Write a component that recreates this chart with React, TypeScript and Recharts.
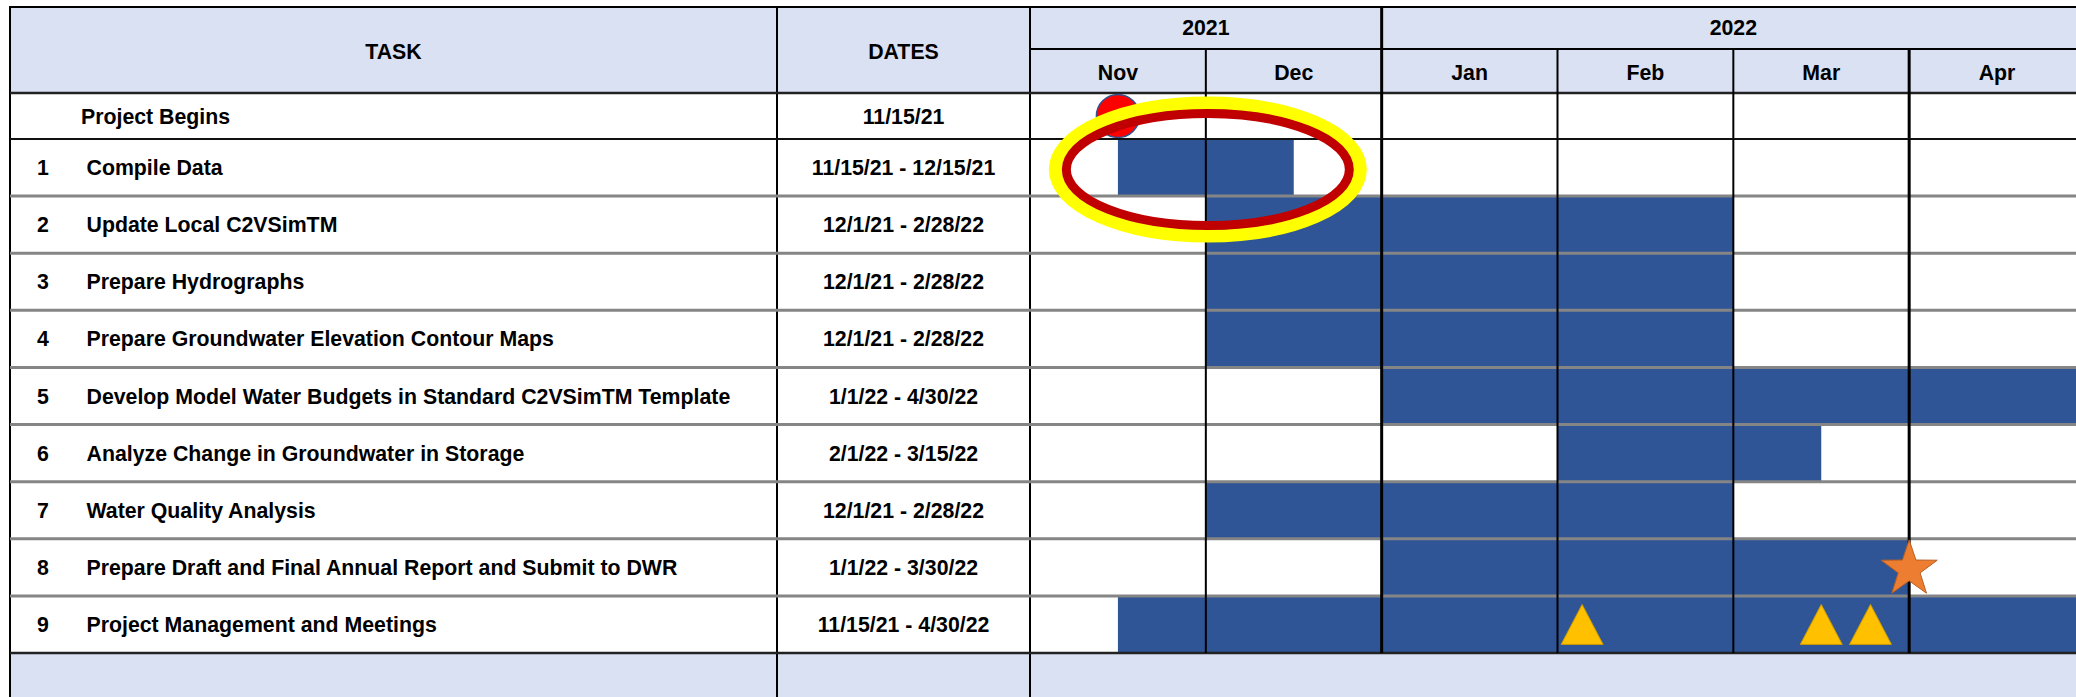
import React from 'react';
import { ComposedChart, Bar, Scatter, XAxis, YAxis, ReferenceLine } from 'recharts';

// timeline in month units: 0 = 1 Nov 2021, 6 = 30 Apr 2022
const months = ['Nov', 'Dec', 'Jan', 'Feb', 'Mar', 'Apr'];
const years = ['2021', '2022'];
const yearStart = [0, 2];
const yearEnd = [2, 6];

const kickoffName = 'Project Begins';
const kickoffDate = '11/15/21';
const kickoffAt = 0.5;

const taskNums = ['1', '2', '3', '4', '5', '6', '7', '8', '9'];
const taskNames = [
  'Compile Data',
  'Update Local C2VSimTM',
  'Prepare Hydrographs',
  'Prepare Groundwater Elevation Contour Maps',
  'Develop Model Water Budgets in Standard C2VSimTM Template',
  'Analyze Change in Groundwater in Storage',
  'Water Quality Analysis',
  'Prepare Draft and Final Annual Report and Submit to DWR',
  'Project Management and Meetings',
];
const taskDates = [
  '11/15/21 - 12/15/21',
  '12/1/21 - 2/28/22',
  '12/1/21 - 2/28/22',
  '12/1/21 - 2/28/22',
  '1/1/22 - 4/30/22',
  '2/1/22 - 3/15/22',
  '12/1/21 - 2/28/22',
  '1/1/22 - 3/30/22',
  '11/15/21 - 4/30/22',
];
const taskStart = [0.5, 1, 1, 1, 2, 3, 1, 2, 0.5];
const taskEnd = [1.5, 4, 4, 4, 6, 4.5, 4, 5, 6];

// markers drawn on top of the bars
const highlightTask = 'Compile Data';
const highlightAt = 1;
const reportTask = 'Prepare Draft and Final Annual Report and Submit to DWR';
const reportDue = 5;
const meetingTask = 'Project Management and Meetings';
const meetingDates = [3.14, 4.5, 4.78];

// page layout
const W = 2085;
const H = 697;
const LEFT = 10;
const TOP = 7;
const TASK_R = 777;
const PLOT_L = 1030;
const YEAR_B = 49;
const HEAD_B = 93;
const ROW0_B = 139;
const BODY_B = 653;

const HEAD_BG = '#D9E1F2';
const BAR = '#2F5597';
const FONT = '"Liberation Sans", Arial, sans-serif';
const txt = { fontFamily: FONT, fontSize: 21.3, fontWeight: 700, fill: '#000' };

const kickoffRows = [{ task: kickoffName, kickoff: kickoffAt }];

const rows = taskNames.map((task, i) => ({
  task,
  span: [taskStart[i], taskEnd[i]],
  highlight: task === highlightTask ? highlightAt : null,
  report: task === reportTask ? reportDue : null,
  meetings: task === meetingTask ? meetingDates : [],
}));

const okPoint = (p: any) => p && p.cx != null && p.cy != null && !isNaN(p.cx) && !isNaN(p.cy);

function KickoffTick({ y }: any) {
  return (
    <g>
      <text x={81} y={y + 7.5} {...txt}>{kickoffName}</text>
      <text x={(TASK_R + PLOT_L) / 2} y={y + 7.5} textAnchor="middle" {...txt}>{kickoffDate}</text>
    </g>
  );
}

function TaskTick({ y, payload }: any) {
  const i = taskNames.indexOf(payload.value);
  return (
    <g>
      <text x={43} y={y + 7.5} textAnchor="middle" {...txt}>{taskNums[i]}</text>
      <text x={86.5} y={y + 7.5} {...txt}>{payload.value}</text>
      <text x={(TASK_R + PLOT_L) / 2} y={y + 7.5} textAnchor="middle" {...txt}>{taskDates[i]}</text>
    </g>
  );
}

// horizontal rule running across the whole table, not only the timeline
const rowRule = (color: string, width: number) => (p: any) => (
  <line x1={LEFT} x2={Math.max(p.x1, p.x2)} y1={p.y1} y2={p.y2} stroke={color} strokeWidth={width} />
);

// month divider that continues up into the header rows
const headRule = (top: number, width: number) => (p: any) => (
  <line x1={p.x1} x2={p.x2} y1={top} y2={Math.max(p.y1, p.y2)} stroke="#000" strokeWidth={width} />
);

const Nothing = () => <g />;

const Circle = (p: any) =>
  okPoint(p) ? <circle cx={p.cx} cy={p.cy} r={21.5} fill="#FF0000" stroke="#2F528F" strokeWidth={1.5} /> : <g />;

const Highlight = (p: any) =>
  okPoint(p) ? (
    <g>
      <ellipse cx={p.cx + 2} cy={p.cy + 2} rx={152.5} ry={66.5} fill="none" stroke="#FFFF00" strokeWidth={13} />
      <ellipse cx={p.cx + 2} cy={p.cy + 2} rx={141.5} ry={56} fill="none" stroke="#C00000" strokeWidth={9} />
    </g>
  ) : (
    <g />
  );

const Star = (p: any) => {
  if (!okPoint(p)) return <g />;
  const pts: string[] = [];
  for (let k = 0; k < 10; k++) {
    const r = k % 2 === 0 ? 29.5 : 11.5;
    const a = -Math.PI / 2 + (k * Math.PI) / 5;
    pts.push(`${p.cx + r * Math.cos(a)},${p.cy + 2 + r * Math.sin(a)}`);
  }
  return <polygon points={pts.join(' ')} fill="#ED7D31" stroke="#B85F22" strokeWidth={1} />;
};

const Triangle = (p: any) =>
  okPoint(p) ? (
    <polygon
      points={`${p.cx},${p.cy - 20} ${p.cx + 21},${p.cy + 20} ${p.cx - 21},${p.cy + 20}`}
      fill="#FFC000"
      stroke="#C99A00"
      strokeWidth={1}
    />
  ) : (
    <g />
  );

const vLine = (k: number) => (k === 2 || k === 5 ? 3 : 2);

export default function App() {
  const dividers = [1, 2, 3, 4, 5];
  return (
    <div
      style={{
        position: 'fixed',
        left: 0,
        top: 0,
        width: 2076,
        height: H,
        overflow: 'hidden',
        background: '#fff',
        fontFamily: FONT,
      }}
    >
      {/* table frame */}
      <div style={{ position: 'absolute', left: LEFT, top: TOP, width: W - LEFT, height: HEAD_B - TOP, background: HEAD_BG }} />
      <div style={{ position: 'absolute', left: LEFT, top: BODY_B, width: W - LEFT, height: H - BODY_B, background: HEAD_BG }} />
      <div style={{ position: 'absolute', left: LEFT - 1, top: TOP - 1, width: W - LEFT, height: 2, background: '#000' }} />
      {[LEFT, TASK_R, PLOT_L].map((x) => (
        <div key={x} style={{ position: 'absolute', left: x - 1, top: TOP - 1, width: 2, height: H, background: '#000' }} />
      ))}
      <svg style={{ position: 'absolute', left: 0, top: 0 }} width={PLOT_L} height={HEAD_B}>
        <text x={(LEFT + TASK_R) / 2} y={59} textAnchor="middle" {...txt}>TASK</text>
        <text x={(TASK_R + PLOT_L) / 2} y={59} textAnchor="middle" {...txt}>DATES</text>
      </svg>

      {/* header rows + project start milestone */}
      <div style={{ position: 'absolute', left: 0, top: 0 }}>
        <ComposedChart
          layout="vertical"
          width={W}
          height={ROW0_B}
          data={kickoffRows}
          margin={{ top: TOP, right: 0, bottom: 0, left: LEFT }}
        >
          <XAxis
            xAxisId="m"
            orientation="top"
            type="number"
            domain={[0, 6]}
            ticks={months.map((_, i) => i + 0.5)}
            tickFormatter={(v: number) => months[Math.floor(v)]}
            height={HEAD_B - YEAR_B}
            tickSize={0}
            tickMargin={13}
            tickLine={false}
            axisLine={false}
            tick={txt}
            interval={0}
          />
          <XAxis
            xAxisId="y"
            orientation="top"
            type="number"
            domain={[0, 6]}
            ticks={years.map((_, i) => (yearStart[i] + yearEnd[i]) / 2)}
            tickFormatter={(v: number) => years[yearStart.findIndex((s, i) => v > s && v < yearEnd[i])]}
            height={YEAR_B - TOP}
            tickSize={0}
            tickMargin={14}
            tickLine={false}
            axisLine={{ stroke: '#000', strokeWidth: 2 }}
            tick={txt}
            interval={0}
          />
          <YAxis
            type="category"
            scale="band"
            dataKey="task"
            width={PLOT_L - LEFT}
            axisLine={false}
            tickLine={false}
            tick={<KickoffTick />}
            interval={0}
          />
          <ReferenceLine xAxisId="m" y={kickoffName} position="start" shape={rowRule('#222', 2.5)} />
          {dividers.map((k) => (
            <ReferenceLine
              key={k}
              xAxisId="m"
              x={k}
              shape={headRule(yearStart.includes(k) ? TOP : YEAR_B, vLine(k))}
            />
          ))}
          <Scatter xAxisId="y" dataKey="kickoff" shape={Nothing} isAnimationActive={false} />
          <Scatter xAxisId="m" dataKey="kickoff" shape={Circle} isAnimationActive={false} />
        </ComposedChart>
      </div>

      {/* task rows */}
      <div style={{ position: 'absolute', left: 0, top: 0 }}>
        <ComposedChart
          layout="vertical"
          width={W}
          height={H}
          data={rows}
          barCategoryGap={0}
          barGap={0}
          margin={{ top: ROW0_B, right: 0, bottom: H - BODY_B, left: LEFT }}
        >
          <XAxis type="number" domain={[0, 6]} hide />
          <YAxis
            type="category"
            dataKey="task"
            width={PLOT_L - LEFT}
            axisLine={false}
            tickLine={false}
            tick={<TaskTick />}
            interval={0}
          />
          <Bar dataKey="span" fill={BAR} isAnimationActive={false} />
          {taskNames.slice(0, -1).map((t) => (
            <ReferenceLine key={t} y={t} position="end" shape={rowRule('#858585', 3)} />
          ))}
          <ReferenceLine y={taskNames[0]} position="start" shape={rowRule('#111', 2)} />
          <ReferenceLine y={taskNames[taskNames.length - 1]} position="end" shape={rowRule('#222', 2.5)} />
          {dividers.map((k) => (
            <ReferenceLine key={k} x={k} stroke="#000" strokeWidth={vLine(k)} />
          ))}
          <Scatter dataKey="report" shape={Star} isAnimationActive={false} />
          {meetingDates.map((_, k) => (
            <Scatter
              key={k}
              dataKey={(d: any) => d.meetings[k]}
              shape={Triangle}
              isAnimationActive={false}
            />
          ))}
          <Scatter dataKey="highlight" shape={Highlight} isAnimationActive={false} />
        </ComposedChart>
      </div>
    </div>
  );
}
